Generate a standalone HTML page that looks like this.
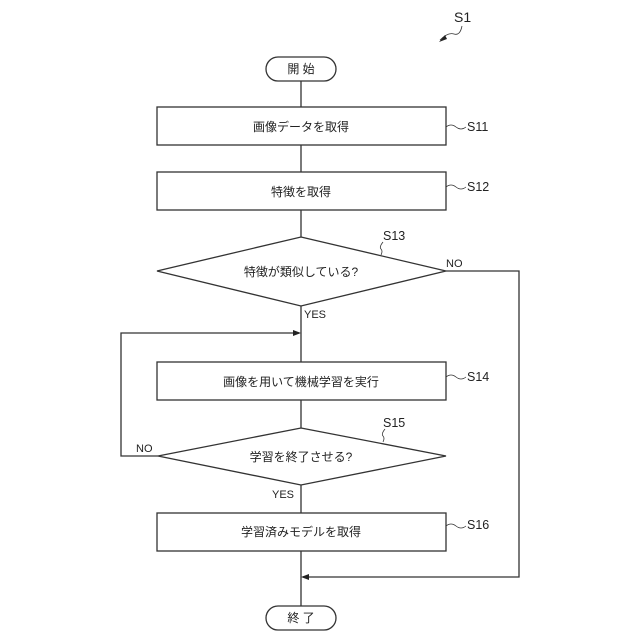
<!DOCTYPE html>
<html><head><meta charset="utf-8"><style>html,body{margin:0;padding:0;background:#fff}svg{display:block}text{font-family:"Liberation Sans","Noto Sans CJK JP",sans-serif;fill:#222}</style></head><body>
<svg width="640" height="640" viewBox="0 0 640 640" xmlns="http://www.w3.org/2000/svg">
<g fill="none" stroke="#333" stroke-width="1.3">
<rect x="266" y="57" width="70" height="24" rx="12"/>
<rect x="157" y="107" width="289" height="38"/>
<rect x="157" y="172" width="289" height="38"/>
<polygon points="301,237 446,271 301,306 157,271" fill="#fff"/>
<rect x="157" y="362" width="289" height="38"/>
<polygon points="301,428 446,456 301,485 158,456" fill="#fff"/>
<rect x="157" y="513" width="289" height="38"/>
<rect x="266" y="606" width="70" height="24" rx="12"/>
<line x1="301" y1="81" x2="301" y2="107"/>
<line x1="301" y1="145" x2="301" y2="172"/>
<line x1="301" y1="210" x2="301" y2="237"/>
<line x1="301" y1="306" x2="301" y2="362"/>
<line x1="301" y1="400" x2="301" y2="428"/>
<line x1="301" y1="485" x2="301" y2="513"/>
<line x1="301" y1="551" x2="301" y2="606"/>
<polyline points="446,271 519,271 519,577 303,577"/>
<polyline points="158,456 121,456 121,333 299,333"/>
<path d="M446,127 q5,-4 10,0 t10,0" stroke-width="0.8"/>
<path d="M446,187 q5,-4 10,0 t10,0" stroke-width="0.8"/>
<path d="M446,377 q5,-4 10,0 t10,0" stroke-width="0.8"/>
<path d="M446,526 q5,-4 10,0 t10,0" stroke-width="0.8"/>
<path d="M381,255 q2,-4 0,-6 t2,-7" stroke-width="0.8"/>
<path d="M383,442 q2,-4 0,-6 t2,-7" stroke-width="0.8"/>
<path d="M440,40 q8,-8 14,-6 t8,-8" stroke-width="0.8"/>
</g>
<g fill="#222">
<polygon points="301,333 293,330 293,336"/>
<polygon points="301,577 309,574 309,580"/>
<polygon points="439,42 445,35 447,39"/>
</g>
<g font-size="12" text-anchor="middle">
<text x="301" y="73">開 始</text>
<text x="301" y="131">画像データを取得</text>
<text x="301" y="196">特徴を取得</text>
<text x="301" y="276">特徴が類似している?</text>
<text x="301" y="386">画像を用いて機械学習を実行</text>
<text x="301" y="461">学習を終了させる?</text>
<text x="301" y="536">学習済みモデルを取得</text>
<text x="301" y="622">終 了</text>
</g>
<g font-size="12.5">
<text x="467" y="131">S11</text>
<text x="467" y="191">S12</text>
<text x="383" y="240">S13</text>
<text x="467" y="381">S14</text>
<text x="383" y="427">S15</text>
<text x="467" y="529">S16</text>
<text x="454" y="22" font-size="14">S1</text>
<text x="446" y="267" font-size="11">NO</text>
<text x="304" y="318" font-size="11">YES</text>
<text x="136" y="452" font-size="11">NO</text>
<text x="272" y="498" font-size="11">YES</text>
</g>
</svg>
</body></html>
